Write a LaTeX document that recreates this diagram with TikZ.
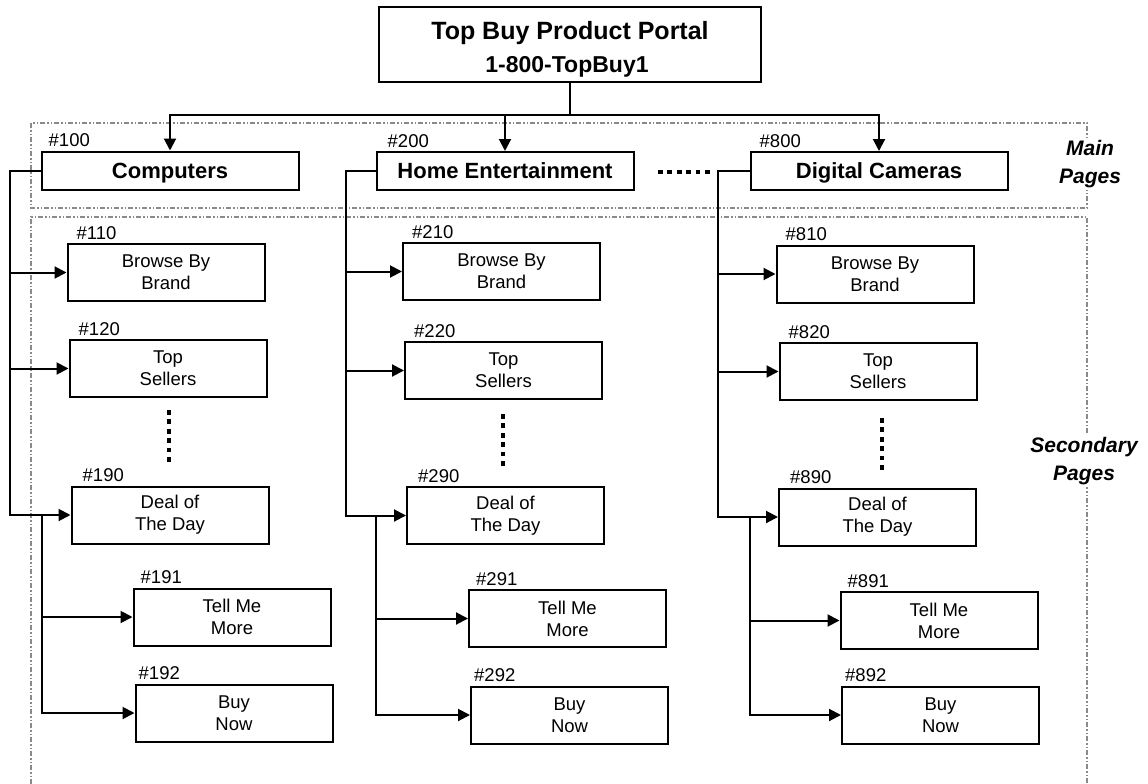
\documentclass[tikz,border=0pt]{standalone}
\usepackage{fontspec}
\setmainfont{Liberation Sans}
\usetikzlibrary{arrows.meta,calc}
\definecolor{fr}{HTML}{8A8A8A}
\begin{document}
\begin{tikzpicture}[x=1pt,y=-1pt,
 box/.style={draw,line width=2pt,minimum width=197pt,minimum height=57pt,align=center,
   font=\fontsize{18.5}{22}\selectfont,inner sep=0pt},
 mbox/.style={draw,line width=2pt,minimum width=257pt,minimum height=38pt,text depth=0pt,
   font=\fontsize{22}{26}\selectfont\bfseries,inner sep=0pt},
 lbl/.style={font=\fontsize{18.5}{22}\selectfont,inner sep=0pt,anchor=base west},
 conn/.style={line width=2pt},
 arr/.style={conn,-{Triangle[length=12pt,width=12pt]}},
 frm/.style={draw=fr,line width=1.3pt,dash pattern=on 5pt off 2pt on 1.5pt off 2pt on 1.5pt off 2pt},
 side/.style={fill=white,align=center,inner sep=2pt,font=\fontsize{21}{28}\selectfont\bfseries\itshape},
 dots/.style={line width=4pt,dash pattern=on 4.7pt off 4.7pt},
 ttl/.style={inner sep=0pt,anchor=base,font=\bfseries}
]
\useasboundingbox (0,0) rectangle (1148,784);

% frames
\draw[frm] (31,123) rectangle (1087,208);
\draw[frm] (31,784) -- (31,217) -- (1087,217) -- (1087,784);
\node[side] (mp) at (1090,164) {Main\\Pages};
\node[side] (sp) at (1084,461) {Secondary\\Pages};

% top
\node[draw,line width=2pt,minimum width=382pt,minimum height=75pt,inner sep=0pt] (top) at (570,44.5) {};
\node[ttl,font=\fontsize{25}{28}\selectfont\bfseries] (ttl1) at (570,40) {Top Buy Product Portal};
\node[ttl,font=\fontsize{23}{28}\selectfont\bfseries] (ttl2) at (567,72.5) {1-800-TopBuy1};

% main pages
\node[mbox] (comp) at (170,170.5) {Computers};
\node[mbox] (home) at (505,171) {Home Entertainment};
\node[mbox] (dig) at (879,171) {Digital Cameras};
\node[lbl] at ([xshift=8pt,yshift=4pt]comp.north west) {\#100};
\node[lbl] at ([xshift=12pt,yshift=4pt]home.north west) {\#200};
\node[lbl] at ([xshift=10pt,yshift=4pt]dig.north west) {\#800};

\coordinate (hub) at (top.south |- 0,115);
\draw[conn] (top.south) -- (hub);
\draw[arr] (hub) -| (comp.north);
\draw[arr] (hub) -| (home.north);
\draw[arr] (hub) -| (dig.north);

\draw[dots] (658,172) -- (710,172);

% column 1
\node[box] (b110) at (166,272.5) {Browse By\\Brand};
\node[box] (b120) at (168,368.5) {Top\\Sellers};
\node[box] (b190) at (170,515) {Deal of\\The Day};
\node[box] (b191) at (232,617) {Tell Me\\More};
\node[box] (b192) at (234,713) {Buy\\Now};
\node[lbl] at ([xshift=10pt,yshift=4pt]b110.north west) {\#110};
\node[lbl] at ([xshift=10pt,yshift=4pt]b120.north west) {\#120};
\node[lbl] at ([xshift=12pt,yshift=4pt]b190.north west) {\#190};
\node[lbl] at ([xshift=8pt,yshift=4pt]b191.north west) {\#191};
\node[lbl] at ([xshift=4pt,yshift=4pt]b192.north west) {\#192};
\draw[dots] (169,410) -- (169,466);

\coordinate (s1) at (10,0);
\coordinate (t1) at (42,0);
\draw[arr] (comp.west) -- (comp.west -| s1) |- (b190.west);
\draw[arr] (s1 |- b110.west) -- (b110.west);
\draw[arr] (s1 |- b120.west) -- (b120.west);
\draw[arr] (t1 |- b190.west) |- (b192.west);
\draw[arr] (t1 |- b191.west) -- (b191.west);

% column 2
\node[box] (b210) at (501.5,271.5) {Browse By\\Brand};
\node[box] (b220) at (503.5,370.5) {Top\\Sellers};
\node[box] (b290) at (505.5,515.5) {Deal of\\The Day};
\node[box] (b291) at (567.5,618.5) {Tell Me\\More};
\node[box] (b292) at (569.5,715) {Buy\\Now};
\node[lbl] at ([xshift=10pt,yshift=4pt]b210.north west) {\#210};
\node[lbl] at ([xshift=10pt,yshift=4pt]b220.north west) {\#220};
\node[lbl] at ([xshift=12pt,yshift=4pt]b290.north west) {\#290};
\node[lbl] at ([xshift=8pt,yshift=4pt]b291.north west) {\#291};
\node[lbl] at ([xshift=4pt,yshift=4pt]b292.north west) {\#292};
\draw[dots] (503,414) -- (503,470);

\coordinate (s2) at (346,0);
\coordinate (t2) at (376,0);
\draw[arr] (home.west) -- (home.west -| s2) |- (b290.west);
\draw[arr] (s2 |- b210.west) -- (b210.west);
\draw[arr] (s2 |- b220.west) -- (b220.west);
\draw[arr] (t2 |- b290.west) |- (b292.west);
\draw[arr] (t2 |- b291.west) -- (b291.west);

% column 3
\node[box] (b810) at (875,274) {Browse By\\Brand};
\node[box] (b820) at (878,371.5) {Top\\Sellers};
\node[box] (b890) at (877.5,517) {Deal of\\The Day};
\node[box] (b891) at (939,620.5) {Tell Me\\More};
\node[box] (b892) at (940.5,715) {Buy\\Now};
\node[lbl] at ([xshift=10pt,yshift=4pt]b810.north west) {\#810};
\node[lbl] at ([xshift=10pt,yshift=4pt]b820.north west) {\#820};
\node[lbl] at ([xshift=12pt,yshift=4pt]b890.north west) {\#890};
\node[lbl] at ([xshift=8pt,yshift=4pt]b891.north west) {\#891};
\node[lbl] at ([xshift=4pt,yshift=4pt]b892.north west) {\#892};
\draw[dots] (882,418) -- (882,474);

\coordinate (s3) at (718,0);
\coordinate (t3) at (750,0);
\draw[arr] (dig.west) -- (dig.west -| s3) |- (b890.west);
\draw[arr] (s3 |- b810.west) -- (b810.west);
\draw[arr] (s3 |- b820.west) -- (b820.west);
\draw[arr] (t3 |- b890.west) |- (b892.west);
\draw[arr] (t3 |- b891.west) -- (b891.west);
\end{tikzpicture}
\end{document}
